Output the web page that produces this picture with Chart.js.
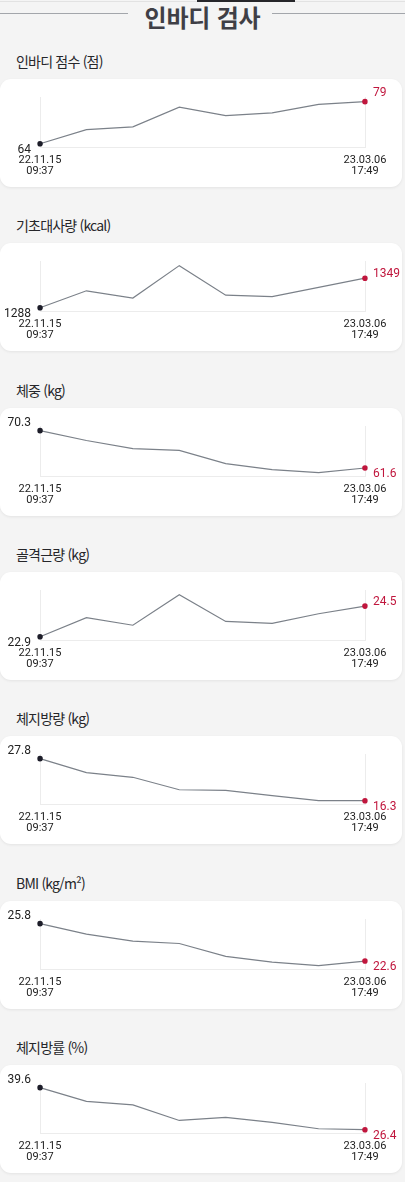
<!DOCTYPE html>
<html lang="ko">
<head>
<meta charset="utf-8">
<script src="https://cdn.jsdelivr.net/npm/chart.js@4.4.1/dist/chart.umd.min.js"></script>
<style>
    body { margin: 0; background: #f4f4f4; font-family: "Noto Sans CJK KR", sans-serif; }
    #page { position: relative; width: 405px; height: 1182px; overflow: hidden; }
    .topline { position: absolute; left: 0; top: 1px; width: 405px; height: 1px; background: #e2e2e2; }
    .topbar { position: absolute; left: 197px; top: 0; width: 98px; height: 2px; background: #26262a; }
    .hline { position: absolute; top: 13px; height: 1px; background: #a3a6ab; }
    .header { position: absolute; left: 0; width: 405px; top: -1px; text-align: center;
        font-size: 24px; font-weight: bold; color: #3f3f46; letter-spacing: -0.2px; }
    .title { position: absolute; left: 16px; font-size: 14px; color: #26262a; letter-spacing: -0.8px; }
    .card { position: absolute; left: 0; width: 402px; height: 108px; background: #fff;
        border-radius: 11px; box-shadow: 0 1px 3px rgba(0, 0, 0, 0.07); }
    .card canvas { display: block; }
</style>
</head>
<body>
<div id="page">
    <div class="topline"></div>
    <div class="topbar"></div>
    <div class="hline" style="left:0;width:128px"></div>
    <div class="hline" style="left:272px;width:133px"></div>
    <div class="header">인바디 검사</div>
</div>
<script>
// measurement dates (only first and last are shown)
const dates = ['22.11.15 09:37', '', '', '', '', '', '', '23.03.06 17:49'];

const titles = ['인바디 점수 (점)', '기초대사량 (kcal)', '체중 (kg)', '골격근량 (kg)', '체지방량 (kg)', 'BMI (kg/m²)', '체지방률 (%)'];

const inbodyScore = [64, 69, 70, 77, 74, 75, 78, 79];
const bmr = [1288, 1323, 1308, 1375, 1314, 1311, 1330, 1349];
const weight = [70.3, 68.0, 66.1, 65.7, 62.6, 61.2, 60.5, 61.6];
const muscle = [22.9, 23.9, 23.5, 25.1, 23.7, 23.6, 24.1, 24.5];
const fatMass = [27.8, 24.0, 22.7, 19.3, 19.1, 17.7, 16.3, 16.3];
const bmi = [25.8, 24.9, 24.3, 24.1, 23.0, 22.5, 22.2, 22.6];
const fatPct = [39.6, 35.3, 34.2, 29.3, 30.3, 28.7, 26.7, 26.4];

const allSeries = [inbodyScore, bmr, weight, muscle, fatMass, bmi, fatPct];

const FIRST_COLOR = '#1d1d29';
const LAST_COLOR = '#c0163d';

// value labels next to first & last point
const endLabels = {
    id: 'endLabels',
    afterDatasetsDraw(chart) {
        const values = chart.data.datasets[0].data;
        const pts = chart.getDatasetMeta(0).data;
        const n = values.length;
        const first = values[0], last = values[n - 1];
        const max = Math.max(...values);
        const ctx = chart.ctx;
        ctx.save();
        ctx.font = '12px Roboto, "Noto Sans", sans-serif';
        ctx.textBaseline = 'middle';

        ctx.fillStyle = '#222';
        ctx.textAlign = 'right';
        ctx.fillText(String(first), pts[0].x - 9, pts[0].y + (first === max ? -8 : 6.5));

        ctx.fillStyle = LAST_COLOR;
        ctx.textAlign = 'left';
        let dy = last < first ? 6 : -4;
        if (last === max) dy = -9;
        ctx.fillText(String(last), pts[n - 1].x + 8, pts[n - 1].y + dy);
        ctx.restore();
    }
};

const page = document.getElementById('page');

allSeries.forEach((values, i) => {
    const top = Math.round(79 + i * 164.3);

    const title = document.createElement('div');
    title.className = 'title';
    title.textContent = titles[i];
    title.style.top = (top - 28) + 'px';
    page.appendChild(title);

    const card = document.createElement('div');
    card.className = 'card';
    card.style.top = top + 'px';
    const canvas = document.createElement('canvas');
    canvas.width = 402;
    canvas.height = 108;
    card.appendChild(canvas);
    page.appendChild(card);

    const lo = Math.min(...values), hi = Math.max(...values);
    const range = hi - lo;
    const n = values.length;

    new Chart(canvas.getContext('2d'), {
        type: 'line',
        data: {
            labels: dates,
            datasets: [{
                data: values,
                borderColor: '#7b8189',
                borderWidth: 1.2,
                tension: 0,
                pointRadius: values.map((v, j) => (j === 0 || j === n - 1) ? 2.8 : 0),
                pointBorderWidth: 0,
                pointBackgroundColor: values.map((v, j) => j === n - 1 ? LAST_COLOR : FIRST_COLOR),
                pointHoverRadius: 0
            }]
        },
        options: {
            responsive: false,
            animation: false,
            layout: { padding: { top: 18, left: 40, right: 37, bottom: 3.5 } },
            plugins: {
                legend: { display: false },
                tooltip: { enabled: false }
            },
            scales: {
                x: {
                    offset: false,
                    grid: { color: '#ececec', drawTicks: false },
                    border: { color: '#ececec' },
                    ticks: {
                        autoSkip: false,
                        maxRotation: 0,
                        padding: 7,
                        color: '#222',
                        font: { family: 'Roboto', size: 11, lineHeight: '11px' },
                        callback: function (value) {
                            const label = this.getLabelForValue(value);
                            if (!label) return null;
                            return label.split(' ');
                        }
                    }
                },
                y: {
                    display: false,
                    min: lo - range * 0.09,
                    max: hi + range * 0.11
                }
            }
        },
        plugins: [endLabels]
    });
});
</script>
</body>
</html>
